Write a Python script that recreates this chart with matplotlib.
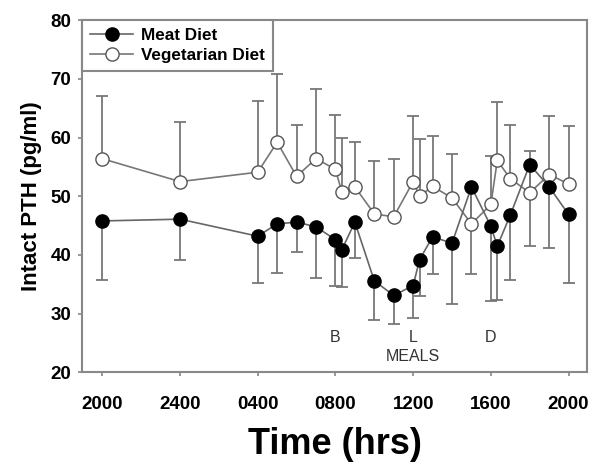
import matplotlib
matplotlib.use('Agg')
import matplotlib.pyplot as plt

plt.rcParams['font.family'] = ['Liberation Sans', 'DejaVu Sans']

# hours since 2000 on day 1
hours = [0, 4, 8, 9, 10, 11, 12, 12.33, 13, 14, 15, 16, 16.33, 17, 18, 19, 20, 20.33, 21, 22, 23, 24]

meat = [45.8, 46.1, 43.2, 45.3, 45.6, 44.8, 42.6, 40.9, 45.6, 35.6, 33.1, 34.8, 39.2,
        43.1, 42.0, 51.6, 44.9, 41.5, 46.8, 55.4, 51.6, 46.9]
meat_low = [35.7, 39.2, 35.3, 36.9, 40.5, 36.1, 34.7, 34.5, 39.5, 29.0, 28.3, 29.2, 33.0,
            36.8, 31.6, 36.8, 32.2, 32.4, 35.8, 41.5, 41.2, 35.2]

veg = [56.4, 52.5, 54.1, 59.2, 53.4, 56.4, 54.6, 50.7, 51.6, 47.0, 46.5, 52.5, 50.0,
       51.7, 49.7, 45.3, 48.6, 56.1, 53.0, 50.6, 53.7, 52.1]
veg_high = [67.1, 62.6, 66.3, 70.9, 62.2, 68.2, 63.9, 59.9, 59.3, 56.0, 56.3, 63.7, 59.8,
            60.3, 57.2, 51.5, 56.8, 66.1, 62.2, 57.7, 63.7, 62.0]

tick_pos = [0, 4, 8, 12, 16, 20, 24]
tick_labels = ['2000', '2400', '0400', '0800', '1200', '1600', '2000']

meat_err = [[m - lo for m, lo in zip(meat, meat_low)], [0] * len(meat)]
veg_err = [[0] * len(veg), [hi - v for v, hi in zip(veg, veg_high)]]

fig = plt.figure(figsize=(6.05, 4.69), dpi=100)
ax = fig.add_axes([0.136, 0.206, 0.834, 0.751])

ax.errorbar(hours, veg, yerr=veg_err, fmt='none', ecolor='#777777', elinewidth=1.3,
            capsize=4, capthick=1.3, zorder=1)
ax.errorbar(hours, meat, yerr=meat_err, fmt='none', ecolor='#777777', elinewidth=1.3,
            capsize=4, capthick=1.3, zorder=1)
ax.plot(hours, meat, '-o', color='#666666', lw=1.2, marker='o', ms=9.5,
        mfc='black', mec='black', mew=1, label='Meat Diet', zorder=3)
ax.plot(hours, veg, '-o', color='#777777', lw=1.2, marker='o', ms=9.5,
        mfc='white', mec='#555555', mew=1, label='Vegetarian Diet', zorder=2)

ax.set_xlim(-1.03, 24.94)
ax.set_ylim(20, 80)
ax.set_xticks(tick_pos)
ax.set_xticklabels(tick_labels)
ax.set_yticks(range(20, 81, 10))

for s in ax.spines.values():
    s.set_color('#888888')
    s.set_linewidth(1.5)
ax.tick_params(direction='out', length=3, width=1.2, color='#888888', labelsize=13.5)
ax.tick_params(axis='x', pad=14)
ax.tick_params(axis='y', pad=5)
for lab in ax.get_xticklabels() + ax.get_yticklabels():
    lab.set_fontweight('bold')

ax.set_ylabel('Intact PTH (pg/ml)', fontsize=16, fontweight='bold', labelpad=6)
ax.set_xlabel('Time (hrs)', fontsize=26, fontweight='bold', labelpad=10)

ax.text(12, 25.95, 'B', ha='center', va='center', fontsize=11.5, color='#333333')
ax.text(16, 25.95, 'L', ha='center', va='center', fontsize=11.5, color='#333333')
ax.text(20, 25.95, 'D', ha='center', va='center', fontsize=11.5, color='#333333')
ax.text(16, 22.7, 'MEALS', ha='center', va='center', fontsize=11.5, color='#333333')

leg = ax.legend(loc='upper left', borderaxespad=0, fancybox=False, framealpha=1,
                edgecolor='#888888', prop={'weight': 'bold', 'size': 12.3},
                handlelength=2.5, handletextpad=0.45, borderpad=0.48, labelspacing=0.28)
leg.get_frame().set_linewidth(1.5)

fig.savefig('out.png', dpi=100)
